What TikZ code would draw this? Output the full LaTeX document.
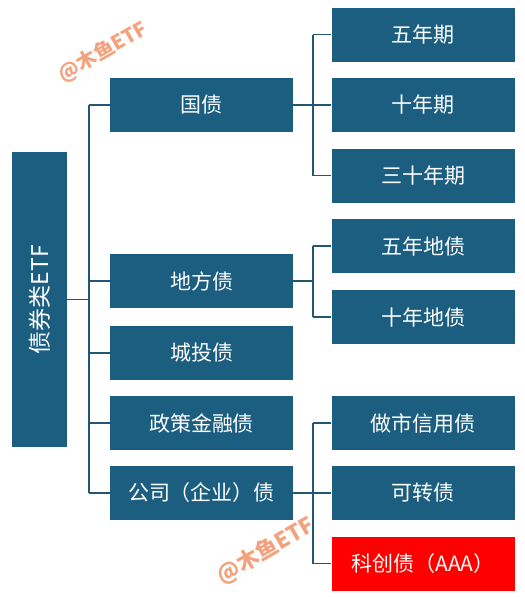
\documentclass[tikz,border=0pt]{standalone}
\usepackage{fontspec}
\setmainfont{Noto Sans CJK SC}
\definecolor{bondblue}{HTML}{1B5E80}
\definecolor{linkblue}{HTML}{205772}
\definecolor{hotred}{HTML}{FF0000}
\definecolor{wmorange}{HTML}{F4A27E}
\begin{document}
\begin{tikzpicture}[x=1pt, y=-1pt,
    box/.style={fill=bondblue, text=white, inner sep=0pt, minimum width=183pt, minimum height=54pt, font=\fontsize{21}{24}\selectfont},
    redbox/.style={box, fill=hotred},
    link/.style={draw=linkblue, line width=1.6pt},
    wmark/.style={text=wmorange, font=\bfseries, rotate=30}]
    \useasboundingbox (0, 0) rectangle (525, 598);
    % root
    \node[box, rotate=90, minimum width=295pt, minimum height=55pt, font=\fontsize{23}{26}\selectfont] (root) at (39.5, 299.5) {债券类ETF};
    % first level
    \node[box] (guo) at (201.5, 105) {国债};
    \node[box] (difang) at (201.5, 281) {地方债};
    \node[box] (chengtou) at (201.5, 353) {城投债};
    \node[box] (zhengce) at (201.5, 423) {政策金融债};
    \node[box] (gongsi) at (201.5, 493) {公司（企业）债};
    % second level
    \node[box] (wunian) at (423, 34.5) {五年期};
    \node[box] (shinian) at (423, 105) {十年期};
    \node[box] (sanshi) at (423, 175.5) {三十年期};
    \node[box] (wudi) at (423, 246) {五年地债};
    \node[box] (shidi) at (423, 317) {十年地债};
    \node[box] (zuoshi) at (423, 423) {做市信用债};
    \node[box] (kezhuan) at (423, 493) {可转债};
    \node[redbox] (kechuang) at (423, 563.5) {科创债（AAA）};
    % connectors
    \coordinate (trunk) at (89, 0);
    \coordinate (fork) at (313, 0);
    \draw[link] (root.south) -- (trunk |- root.south);
    \draw[link] (trunk |- guo) -- (trunk |- gongsi);
    \foreach \n in {guo, difang, chengtou, zhengce, gongsi}
        \draw[link] (trunk |- \n) -- (\n.west);
    \draw[link] (guo.east) -- (fork |- guo);
    \draw[link] (fork |- wunian) -- (fork |- sanshi);
    \draw[link] (difang.east) -- (fork |- difang);
    \draw[link] (fork |- wudi) -- (fork |- shidi);
    \draw[link] (gongsi.east) -- (fork |- gongsi);
    \draw[link] (fork |- zuoshi) -- (fork |- kechuang);
    \foreach \n in {wunian, shinian, sanshi, wudi, shidi, zuoshi, kezhuan, kechuang}
        \draw[link] (fork |- \n) -- (\n.west);
    % watermarks
    \node[wmark, font=\fontsize{20}{22}\selectfont\bfseries] (mark1) at (103, 52) {@木鱼ETF};
    \node[wmark, font=\fontsize{22}{24}\selectfont\bfseries] (mark2) at (266, 551) {@木鱼ETF};
\end{tikzpicture}
\end{document}
